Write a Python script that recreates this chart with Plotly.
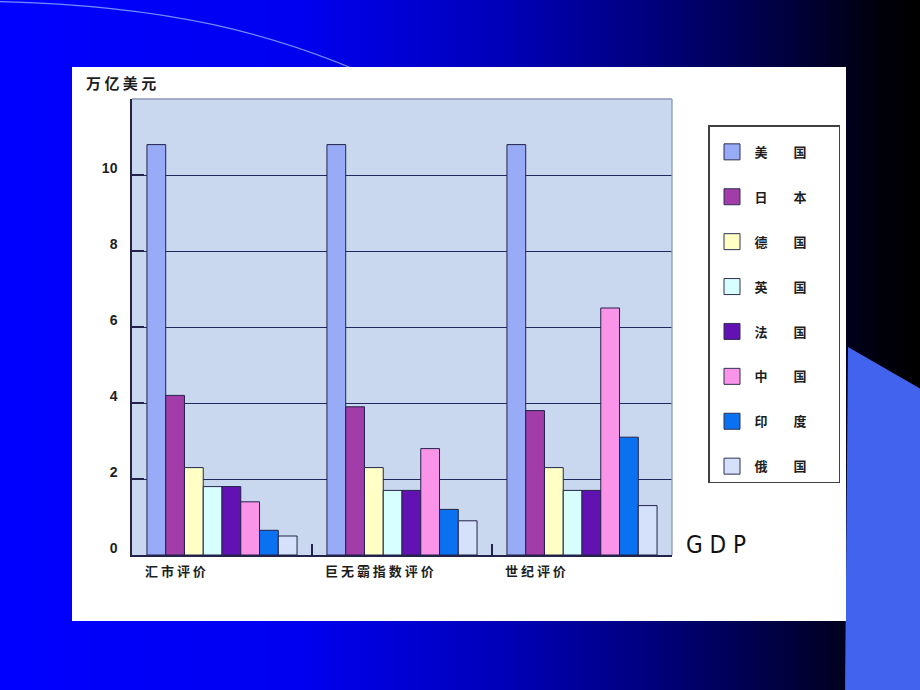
import plotly.graph_objects as go

W, H = 920, 690

# ---------------- data ----------------
categories = ["汇市评价", "巨无霸指数评价", "世纪评价"]
countries = ["美国", "日本", "德国", "英国", "法国", "中国", "印度", "俄国"]

usa = [10.8, 10.8, 10.8]
japan = [4.2, 3.9, 3.8]
germany = [2.3, 2.3, 2.3]
uk = [1.8, 1.7, 1.7]
france = [1.8, 1.7, 1.7]
china = [1.4, 2.8, 6.5]
india = [0.65, 1.2, 3.1]
russia = [0.5, 0.9, 1.3]

series = [usa, japan, germany, uk, france, china, india, russia]
colors = ["#98abf6", "#a13ca9", "#ffffc6", "#d8ffff", "#6212b2", "#fa94e8", "#0a72f0", "#d5e0fa"]

y_tickvals = [0, 2, 4, 6, 8, 10, 12]
y_ticktext = ["0", "2", "4", "6", "8", "10", ""]

# ---------------- helpers (page geometry) ----------------
def X(px):
    return px / W


def Y(py):
    return 1 - py / H


CJK = "Noto Sans CJK SC, Noto Sans, sans-serif"
EDGE = "#22224a"

fig = go.Figure()

for name, vals, col in zip(countries, series, colors):
    fig.add_trace(go.Bar(
        x=categories, y=vals, name=name, legendgroup=name, showlegend=False,
        marker=dict(color=col, line=dict(color=EDGE, width=1)),
        hoverinfo="x+y+name",
    ))

# legend proxies (bigger square swatches)
for name, col in zip(countries, colors):
    fig.add_trace(go.Scatter(
        x=[None], y=[None], mode="markers", legendgroup=name,
        name="\u3000\u3000".join(name) + "\u3000\u3000",
        marker=dict(symbol="square", size=22, color=col, line=dict(color="#303050", width=1)),
    ))

# ---------------- background decoration ----------------
shapes = []


def grad(px):
    stops = [(0, 255), (300, 240), (500, 185), (650, 125), (780, 65), (880, 12), (920, 0)]
    for (a, ca), (b, cb) in zip(stops[:-1], stops[1:]):
        if a <= px <= b:
            t = (px - a) / (b - a)
            return ca + (cb - ca) * t
    return 0


step = 5
for px in range(0, W, step):
    b = int(round(grad(px + step / 2)))
    shapes.append(dict(type="rect", xref="paper", yref="paper", layer="below",
                       x0=X(px), x1=X(px + step + 0.6), y0=-0.01, y1=1.01,
                       fillcolor=f"rgb(0,0,{b})", line=dict(width=0)))

# light-blue polygon on the right
shapes.append(dict(type="path", xref="paper", yref="paper", layer="below",
                   path=f"M {X(848)},{Y(347)} L {X(921)},{Y(389)} L {X(921)},{Y(695)} L {X(845)},{Y(695)} Z",
                   fillcolor="#4163ee", line=dict(width=0)))
# thin arc at the top-left
shapes.append(dict(type="path", xref="paper", yref="paper", layer="below",
                   path=f"M {X(-2)},{Y(1.5)} C {X(150)},{Y(5)} {X(280)},{Y(27)} {X(420)},{Y(100)}",
                   line=dict(color="#6f8dff", width=1.3)))
# white chart card
shapes.append(dict(type="rect", xref="paper", yref="paper", layer="below",
                   x0=X(72), x1=X(846), y0=Y(621), y1=Y(67),
                   fillcolor="white", line=dict(width=0)))
# plot area fill
shapes.append(dict(type="rect", xref="x domain", yref="y domain", layer="below",
                   x0=0, x1=1, y0=0, y1=1, fillcolor="#c9d8ee", line=dict(width=0)))
# light top/right borders of plot area
shapes.append(dict(type="line", xref="x domain", yref="y domain", layer="above",
                   x0=0, x1=1, y0=1, y1=1, line=dict(color="#8b99b6", width=1.3)))
shapes.append(dict(type="line", xref="x domain", yref="y domain", layer="above",
                   x0=1, x1=1, y0=0, y1=1, line=dict(color="#8b99b6", width=1.3)))

# ---------------- annotations ----------------
annotations = []
for c in categories:
    annotations.append(dict(
        x=c, xref="x", y=0, yref="y", xanchor="left", yanchor="top",
        xshift=-79, yshift=-4, showarrow=False, text=" ".join(c),
        font=dict(family=CJK, size=13, color="#1e1e1e", weight="bold"),
    ))
annotations.append(dict(
    x=X(84), y=Y(82), xref="paper", yref="paper", xanchor="left", yanchor="middle",
    showarrow=False, text=" ".join("万亿美元"),
    font=dict(family=CJK, size=15, color="#1e1e1e", weight="bold"),
))
annotations.append(dict(
    x=X(684), y=Y(545), xref="paper", yref="paper", xanchor="left", yanchor="middle",
    showarrow=False, text=" ".join("GDP"),
    font=dict(family="DejaVu Sans Condensed, Liberation Sans Narrow, Roboto Condensed, DejaVu Sans, sans-serif",
              size=24, color="#111111"),
))

fig.update_layout(
    width=W, height=H,
    margin=dict(l=0, r=0, t=0, b=0, pad=0, autoexpand=False),
    paper_bgcolor="#0000ff",
    plot_bgcolor="rgba(0,0,0,0)",
    barmode="group", bargap=0.166, bargroupgap=0,
    shapes=shapes,
    annotations=annotations,
    showlegend=True,
    legend=dict(
        x=X(708), y=Y(125), xanchor="left", yanchor="top",
        bgcolor="white", bordercolor="#404040", borderwidth=1.5,
        font=dict(family=CJK, size=13, color="#1e1e1e", weight="bold"),
        title=dict(text="\u3000", font=dict(size=8)),
        tracegroupgap=25, itemwidth=35,
        itemclick=False, itemdoubleclick=False,
    ),
    xaxis=dict(
        domain=[X(132), X(672)], type="category", automargin=False,
        showticklabels=False, tickson="boundaries", ticks="inside", ticklen=11,
        tickcolor=EDGE, tickwidth=1.5,
        showline=True, linecolor=EDGE, linewidth=1.5, showgrid=False, fixedrange=True,
    ),
    yaxis=dict(
        domain=[Y(555), Y(99)], range=[0, 12], automargin=False,
        tickvals=y_tickvals, ticktext=y_ticktext,
        ticks="inside", ticklen=12, tickcolor=EDGE, tickwidth=1.5,
        showgrid=True, gridcolor="#1f2a5c", gridwidth=1.3, zeroline=False,
        showline=True, linecolor=EDGE, linewidth=1.5,
        tickfont=dict(family="Liberation Sans, Arial, sans-serif", size=14, color="#1e1e1e", weight="bold"),
        ticklabelshift=-7, ticklabelstandoff=10, fixedrange=True,
    ),
)

fig.write_html(
    "out.html",
    config={"displayModeBar": False, "responsive": False},
    post_script="document.body.style.margin='0';document.body.style.overflow='hidden';",
)
